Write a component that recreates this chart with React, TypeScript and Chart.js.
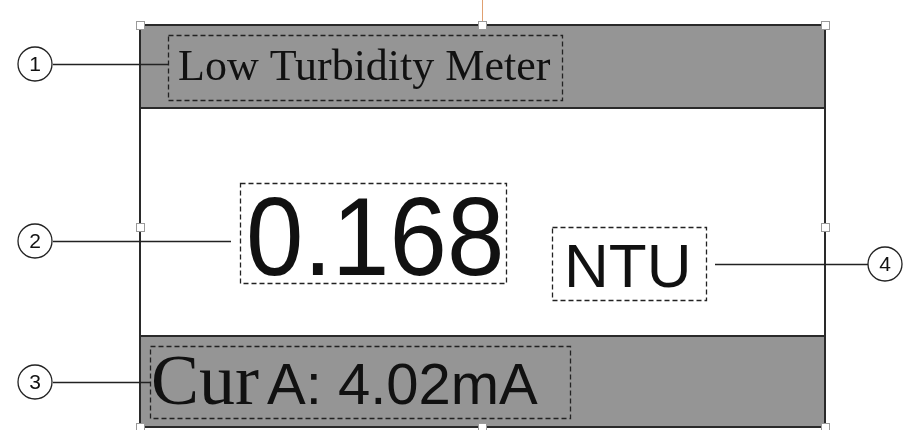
import React, { useEffect, useRef } from "react";
import { Chart, registerables } from "chart.js";

Chart.register(...registerables);

const W = 916;
const H = 430;

// Panel bands (header / display / footer)
const bandNames = ["header", "display", "footer"];
const bandTop = [25, 108, 336];
const bandBottom = [108, 336, 427];
const panelLeft = 140;
const panelRight = 825;

// Text fields
const fieldTexts = ["Low Turbidity Meter", "0.168", "NTU", "Cur", "A: 4.02mA"];
const fieldX = [178, 246, 564, 151, 267];
const fieldBaseline = [80, 275, 287, 404, 404];
const fieldScaleX = [1, 0.93, 1, 1, 1];

// Dashed frames around fields
const frameLeft = [168, 240, 552, 150];
const frameRight = [562, 506, 706, 570];
const frameTop = [35, 183, 227, 346];
const frameBottom = [100, 283, 300, 418];

// Callouts
const calloutLabels = ["1", "2", "3", "4"];
const calloutCx = [35, 35, 35, 885];
const calloutCy = [64, 241, 382, 264];
const calloutLineFrom = [53, 53, 53, 868];
const calloutLineTo = [168, 231, 150, 715];

// Selection handles
const handleX = [140, 482, 825, 140, 825, 140, 482, 825];
const handleY = [25, 25, 25, 227, 227, 427, 427, 427];

const fieldFonts = [
  '44px "Liberation Serif"',
  '111px "Liberation Sans"',
  '62px "Liberation Sans"',
  '72px "Liberation Serif"',
  '58px "Liberation Sans"',
];
const bandColors = ["#959595", "#ffffff", "#959595"];

const panelPlugin = {
  id: "panelPlugin",
  afterDraw(chart: any) {
    const ctx = chart.ctx as CanvasRenderingContext2D;
    const xs = chart.scales.x;
    const ys = chart.scales.y;
    const px = (v: number) => xs.getPixelForValue(v);
    const py = (v: number) => ys.getPixelForValue(v);
    ctx.save();
    // orange guide tick
    ctx.strokeStyle = "#e0a070";
    ctx.lineWidth = 1;
    ctx.beginPath();
    ctx.moveTo(px(482) + 0.5, py(0));
    ctx.lineTo(px(482) + 0.5, py(22));
    ctx.stroke();

    // bands
    bandNames.forEach((_, i) => {
      ctx.fillStyle = bandColors[i];
      ctx.fillRect(px(panelLeft), py(bandTop[i]), px(panelRight) - px(panelLeft), py(bandBottom[i]) - py(bandTop[i]));
    });
    // band borders
    ctx.strokeStyle = "#2a2a2a";
    ctx.lineWidth = 2;
    ctx.beginPath();
    ctx.moveTo(px(panelLeft), py(bandTop[0]));
    ctx.lineTo(px(panelRight), py(bandTop[0]));
    ctx.moveTo(px(panelLeft), py(bandBottom[0]));
    ctx.lineTo(px(panelRight), py(bandBottom[0]));
    ctx.moveTo(px(panelLeft), py(bandTop[2]));
    ctx.lineTo(px(panelRight), py(bandTop[2]));
    ctx.moveTo(px(panelLeft), py(bandBottom[2]));
    ctx.lineTo(px(panelRight), py(bandBottom[2]));
    ctx.moveTo(px(panelLeft), py(bandTop[0]));
    ctx.lineTo(px(panelLeft), py(bandBottom[2]));
    ctx.moveTo(px(panelRight), py(bandTop[0]));
    ctx.lineTo(px(panelRight), py(bandBottom[2]));
    ctx.stroke();

    // dashed frames
    ctx.lineWidth = 1.3;
    ctx.strokeStyle = "#222";
    ctx.setLineDash([5, 3]);
    frameLeft.forEach((l, i) => {
      if (i === 2) {
        ctx.fillStyle = "#ffffff";
        ctx.fillRect(px(l), py(frameTop[i]), px(frameRight[i]) - px(l), py(frameBottom[i]) - py(frameTop[i]));
      }
      ctx.strokeRect(px(l) + 0.5, py(frameTop[i]) + 0.5, px(frameRight[i]) - px(l), py(frameBottom[i]) - py(frameTop[i]));
    });
    ctx.setLineDash([]);

    // texts
    ctx.fillStyle = "#111";
    ctx.textBaseline = "alphabetic";
    ctx.textAlign = "left";
    fieldTexts.forEach((t, i) => {
      ctx.save();
      ctx.font = fieldFonts[i];
      ctx.translate(px(fieldX[i]), py(fieldBaseline[i]));
      ctx.scale(fieldScaleX[i], 1);
      ctx.fillText(t, 0, 0);
      ctx.restore();
    });

    // callouts
    ctx.strokeStyle = "#222";
    ctx.lineWidth = 1.3;
    calloutLabels.forEach((lab, i) => {
      ctx.beginPath();
      ctx.moveTo(px(calloutLineFrom[i]), py(calloutCy[i]) + 0.5);
      ctx.lineTo(px(calloutLineTo[i]), py(calloutCy[i]) + 0.5);
      ctx.stroke();
      ctx.beginPath();
      ctx.fillStyle = "#ffffff";
      ctx.arc(px(calloutCx[i]), py(calloutCy[i]), 17, 0, Math.PI * 2);
      ctx.fill();
      ctx.stroke();
      ctx.fillStyle = "#111";
      ctx.font = '21px "Liberation Sans"';
      ctx.textAlign = "center";
      ctx.textBaseline = "middle";
      ctx.fillText(lab, px(calloutCx[i]), py(calloutCy[i]) + 1);
      ctx.textAlign = "left";
      ctx.textBaseline = "alphabetic";
    });

    // handles
    ctx.lineWidth = 1;
    ctx.strokeStyle = "#9a9a9a";
    ctx.fillStyle = "#ffffff";
    handleX.forEach((hx, i) => {
      const cx = px(hx);
      const cy = py(handleY[i]);
      ctx.fillRect(cx - 4, cy - 4, 9, 9);
      ctx.strokeRect(cx - 4 + 0.5, cy - 4 + 0.5, 8, 8);
    });
    ctx.restore();
  },
};

export default function App() {
  const ref = useRef<HTMLCanvasElement | null>(null);
  useEffect(() => {
    if (!ref.current) return;
    const chart = new Chart(ref.current, {
      type: "scatter",
      data: { datasets: [{ data: [], pointRadius: 0 }] },
      options: {
        animation: false,
        responsive: false,
        maintainAspectRatio: false,
        layout: { padding: 0 },
        plugins: { legend: { display: false }, tooltip: { enabled: false }, title: { display: false } },
        scales: {
          x: { type: "linear", min: 0, max: W, display: false },
          y: { type: "linear", min: 0, max: H, reverse: true, display: false },
        },
      },
      plugins: [panelPlugin],
    });
    return () => chart.destroy();
  }, []);
  return (
    <div style={{ position: "absolute", left: 0, top: 0, width: W, height: H, background: "#fff" }}>
      <canvas ref={ref} width={W} height={H} style={{ width: W, height: H, display: "block" }} />
    </div>
  );
}
